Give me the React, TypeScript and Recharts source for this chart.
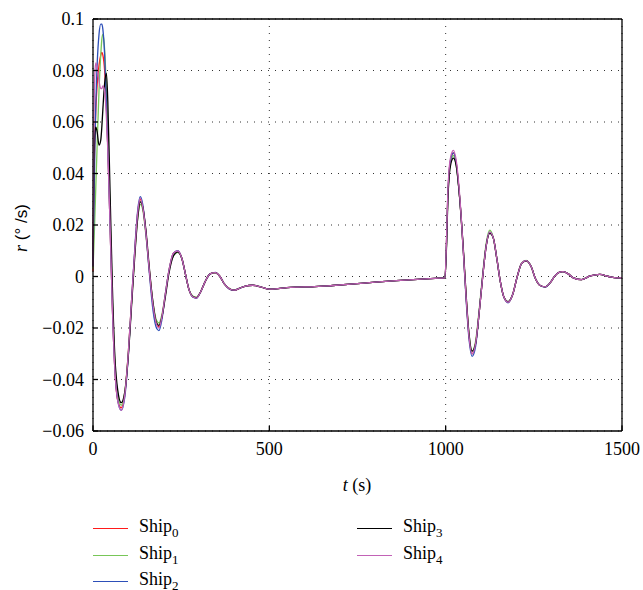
import React from 'react';
import { LineChart, Line, XAxis, YAxis, CartesianGrid } from 'recharts';

// sample times (s)
const time = [
  0, 2, 5, 8, 12, 17, 22, 25, 28, 33, 38, 42, 48, 55, 62, 70, 80,
  90, 100, 110, 120, 127, 134, 141, 150, 160, 170, 180, 187, 195, 205, 215, 228, 240, 252, 262, 272, 283, 293, 305, 318, 332, 347, 360, 373, 387, 400,
  415, 430, 453, 475, 500, 525, 550, 580, 620, 680, 740, 800, 860, 920, 970, 998,
  1003, 1006, 1010, 1015, 1022, 1030, 1040, 1050, 1058, 1066, 1075, 1085, 1095, 1105, 1115, 1125, 1135, 1145, 1155, 1165, 1177, 1190, 1203, 1215, 1228, 1242, 1255, 1268, 1282, 1296, 1310, 1320, 1333, 1348, 1362, 1385, 1410, 1437, 1462, 1485, 1500,
];

// yaw rate r (deg/s) per ship
const ship0 = [
  0.002, 0.030, 0.052, 0.065, 0.075, 0.082, 0.086, 0.087, 0.086, 0.080, 0.066, 0.050, 0.022, -0.012, -0.036, -0.048, -0.051,
  -0.046, -0.030, -0.008, 0.013, 0.025, 0.030, 0.027, 0.017, 0.002, -0.011, -0.018, -0.0195, -0.016, -0.007, 0.002, 0.009, 0.0098, 0.007, 0.001, -0.005, -0.0078, -0.0083, -0.006, -0.002, 0.001, 0.0015, 0.0, -0.003, -0.0048, -0.0053,
  -0.0046, -0.0038, -0.0034, -0.0040, -0.0049, -0.0047, -0.0043, -0.0041, -0.0040, -0.0035, -0.0029, -0.0022, -0.0016, -0.0011, -0.0007, -0.0005,
  0.016, 0.031, 0.041, 0.046, 0.048, 0.044, 0.030, 0.010, -0.008, -0.023, -0.030, -0.026, -0.014, 0.000, 0.012, 0.0172, 0.015, 0.007, -0.002, -0.008, -0.0100, -0.007, 0.000, 0.005, 0.0062, 0.004, -0.001, -0.0035, -0.0040, -0.0025, 0.0003, 0.0015, 0.0019, 0.001, -0.0005, -0.0012, 0.0002, 0.0008, 0.0, -0.0005, -0.0004,
];
const ship1 = [
  0.003, 0.010, 0.022, 0.035, 0.052, 0.072, 0.086, 0.092, 0.094, 0.088, 0.072, 0.055, 0.026, -0.009, -0.033, -0.046, -0.050,
  -0.045, -0.030, -0.009, 0.012, 0.023, 0.028, 0.026, 0.016, 0.002, -0.010, -0.017, -0.018, -0.015, -0.007, 0.002, 0.008, 0.0094, 0.007, 0.001, -0.005, -0.0076, -0.0081, -0.006, -0.002, 0.001, 0.0014, 0.0, -0.003, -0.0047, -0.0052,
  -0.0046, -0.0038, -0.0034, -0.0040, -0.0049, -0.0047, -0.0043, -0.0041, -0.0040, -0.0035, -0.0029, -0.0022, -0.0016, -0.0011, -0.0007, -0.0005,
  0.015, 0.030, 0.040, 0.045, 0.047, 0.043, 0.030, 0.010, -0.008, -0.022, -0.029, -0.025, -0.013, 0.001, 0.013, 0.0180, 0.015, 0.007, -0.002, -0.008, -0.0098, -0.007, 0.000, 0.005, 0.0063, 0.004, -0.001, -0.0035, -0.0040, -0.0025, 0.0003, 0.0015, 0.0019, 0.001, -0.0005, -0.0012, 0.0002, 0.0008, 0.0, -0.0005, -0.0004,
];
const ship2 = [
  0.004, 0.022, 0.048, 0.067, 0.083, 0.094, 0.098, 0.098, 0.096, 0.086, 0.067, 0.050, 0.022, -0.012, -0.036, -0.048, -0.052,
  -0.047, -0.031, -0.008, 0.014, 0.026, 0.031, 0.028, 0.017, 0.001, -0.013, -0.020, -0.021, -0.017, -0.007, 0.002, 0.009, 0.0100, 0.007, 0.001, -0.005, -0.0080, -0.0085, -0.006, -0.002, 0.001, 0.0016, 0.0, -0.003, -0.0049, -0.0054,
  -0.0046, -0.0038, -0.0034, -0.0040, -0.0049, -0.0047, -0.0043, -0.0041, -0.0040, -0.0035, -0.0029, -0.0022, -0.0016, -0.0011, -0.0007, -0.0005,
  0.016, 0.031, 0.041, 0.046, 0.048, 0.044, 0.030, 0.010, -0.009, -0.024, -0.031, -0.027, -0.014, 0.000, 0.012, 0.0172, 0.015, 0.007, -0.002, -0.008, -0.0102, -0.007, 0.000, 0.005, 0.0062, 0.004, -0.001, -0.0035, -0.0041, -0.0025, 0.0003, 0.0015, 0.0019, 0.001, -0.0005, -0.0012, 0.0002, 0.0008, 0.0, -0.0005, -0.0004,
];
const ship3 = [
  0.004, 0.035, 0.055, 0.058, 0.056, 0.051, 0.053, 0.058, 0.065, 0.075, 0.079, 0.068, 0.035, -0.004, -0.031, -0.044, -0.049,
  -0.045, -0.031, -0.010, 0.011, 0.023, 0.029, 0.027, 0.018, 0.003, -0.010, -0.018, -0.019, -0.016, -0.008, 0.001, 0.008, 0.0096, 0.007, 0.001, -0.005, -0.0078, -0.0082, -0.006, -0.002, 0.001, 0.0015, 0.0, -0.003, -0.0048, -0.0053,
  -0.0046, -0.0038, -0.0034, -0.0040, -0.0049, -0.0047, -0.0043, -0.0041, -0.0040, -0.0035, -0.0029, -0.0022, -0.0016, -0.0011, -0.0007, -0.0005,
  0.014, 0.029, 0.039, 0.044, 0.046, 0.043, 0.030, 0.011, -0.007, -0.022, -0.029, -0.026, -0.014, 0.000, 0.012, 0.0168, 0.015, 0.007, -0.002, -0.008, -0.0098, -0.007, 0.000, 0.005, 0.0061, 0.004, -0.001, -0.0035, -0.0040, -0.0025, 0.0003, 0.0015, 0.0019, 0.001, -0.0005, -0.0012, 0.0002, 0.0008, 0.0, -0.0005, -0.0004,
];
const ship4 = [
  0.004, 0.050, 0.078, 0.083, 0.081, 0.076, 0.073, 0.073, 0.074, 0.072, 0.062, 0.049, 0.022, -0.012, -0.036, -0.048, -0.052,
  -0.046, -0.030, -0.008, 0.013, 0.025, 0.0305, 0.027, 0.017, 0.002, -0.011, -0.0185, -0.020, -0.016, -0.007, 0.002, 0.009, 0.0099, 0.007, 0.001, -0.005, -0.0079, -0.0084, -0.006, -0.002, 0.001, 0.0015, 0.0, -0.003, -0.0048, -0.0053,
  -0.0046, -0.0038, -0.0034, -0.0040, -0.0049, -0.0047, -0.0043, -0.0041, -0.0040, -0.0035, -0.0029, -0.0022, -0.0016, -0.0011, -0.0007, -0.0005,
  0.017, 0.032, 0.042, 0.047, 0.049, 0.045, 0.031, 0.010, -0.008, -0.023, -0.030, -0.026, -0.014, 0.000, 0.012, 0.0172, 0.015, 0.007, -0.002, -0.008, -0.0100, -0.007, 0.000, 0.005, 0.0062, 0.004, -0.001, -0.0035, -0.0040, -0.0025, 0.0003, 0.0015, 0.0019, 0.001, -0.0005, -0.0012, 0.0002, 0.0008, 0.0, -0.0005, -0.0004,
];

const shipIndex = ['0', '1', '2', '3', '4'];
const shipColors = ['#ff1a1a', '#78c658', '#2d4fb8', '#000000', '#c262b6'];
const xTicks = [0, 500, 1000, 1500];
const yTicks = [0.1, 0.08, 0.06, 0.04, 0.02, 0, -0.02, -0.04, -0.06];

const seriesValues = [ship0, ship1, ship2, ship3, ship4];
const data = time.map((t, i) => {
  const row: Record<string, number> = { t };
  seriesValues.forEach((vals, k) => {
    row['s' + k] = vals[i];
  });
  return row;
});

const serif = 'Liberation Serif';
const sans = 'Liberation Sans';

const fmtY = (v: number) => {
  if (v === 0) return '0';
  const s = String(Math.abs(v));
  return v < 0 ? '\u2212' + s : s;
};

const tickStyle = { fill: '#000', fontSize: 18, fontFamily: serif, style: { fontFamily: serif } };

const App = () => {
  // legend: Ship0-2 in the left column, Ship3-4 in the right one
  const legendItems = shipIndex.map((n, k) => {
    const col = k < 3 ? 93 : 357;
    const row = k < 3 ? k : k - 3;
    return { n, color: shipColors[k], left: col, top: 517 + row * 26.5 };
  });

  return (
    <div style={{ position: 'absolute', left: 0, top: 0, width: 643, height: 590, background: '#fff', fontFamily: serif }}>
      <LineChart
        width={643}
        height={590}
        data={data}
        margin={{ top: 18, right: 20, left: 13, bottom: 89 }}
        style={{ fontFamily: serif }}
      >
        <CartesianGrid stroke="#333" strokeDasharray="1 6" strokeWidth={1} />
        <XAxis
          dataKey="t"
          type="number"
          domain={[0, 1500]}
          ticks={xTicks}
          height={70}
          stroke="#000"
          strokeWidth={1.3}
          tickSize={-5}
          tickMargin={16}
          tick={tickStyle}
          label={() => (
            <text x={357} y={491} textAnchor="middle" fontFamily={serif} fontSize={18} fill="#000">
              <tspan fontStyle="italic">t</tspan>
              <tspan> (s)</tspan>
            </text>
          )}
        />
        <XAxis
          xAxisId="top"
          orientation="top"
          type="number"
          domain={[0, 1500]}
          ticks={xTicks}
          height={1}
          stroke="#000"
          strokeWidth={1.3}
          tickSize={-5}
          tick={false}
        />
        <YAxis
          type="number"
          domain={[-0.06, 0.1]}
          ticks={yTicks}
          width={80}
          stroke="#000"
          strokeWidth={1.3}
          tickSize={-5}
          tickMargin={14}
          tickFormatter={fmtY}
          tick={tickStyle}
          label={() => (
            <text
              x={27}
              y={228}
              transform="rotate(-90, 27, 228)"
              textAnchor="middle"
              fontSize={18}
              fill="#000"
            >
              <tspan fontFamily={serif} fontStyle="italic">r</tspan>
              <tspan fontFamily={sans} fontSize={17}> (° /s)</tspan>
            </text>
          )}
        />
        <YAxis
          yAxisId="right"
          orientation="right"
          type="number"
          domain={[-0.06, 0.1]}
          ticks={yTicks}
          width={1}
          stroke="#000"
          strokeWidth={1.3}
          tickSize={-5}
          tick={false}
        />
        {shipIndex.map((n, k) => (
          <Line
            key={n}
            type="monotone"
            dataKey={'s' + k}
            stroke={shipColors[k]}
            strokeWidth={1.3}
            dot={false}
            isAnimationActive={false}
          />
        ))}
      </LineChart>

      {legendItems.map((it) => (
        <div key={it.n} style={{ position: 'absolute', left: it.left, top: it.top, height: 20, width: 120 }}>
          <div style={{ position: 'absolute', left: 0, top: 11, width: 35, borderTop: `1.3px solid ${it.color}` }} />
          <div style={{ position: 'absolute', left: 46, top: 0, fontSize: 18, lineHeight: '18px', whiteSpace: 'nowrap', color: '#000' }}>
            Ship<sub style={{ fontSize: 13 }}>{it.n}</sub>
          </div>
        </div>
      ))}
    </div>
  );
};

export default App;
